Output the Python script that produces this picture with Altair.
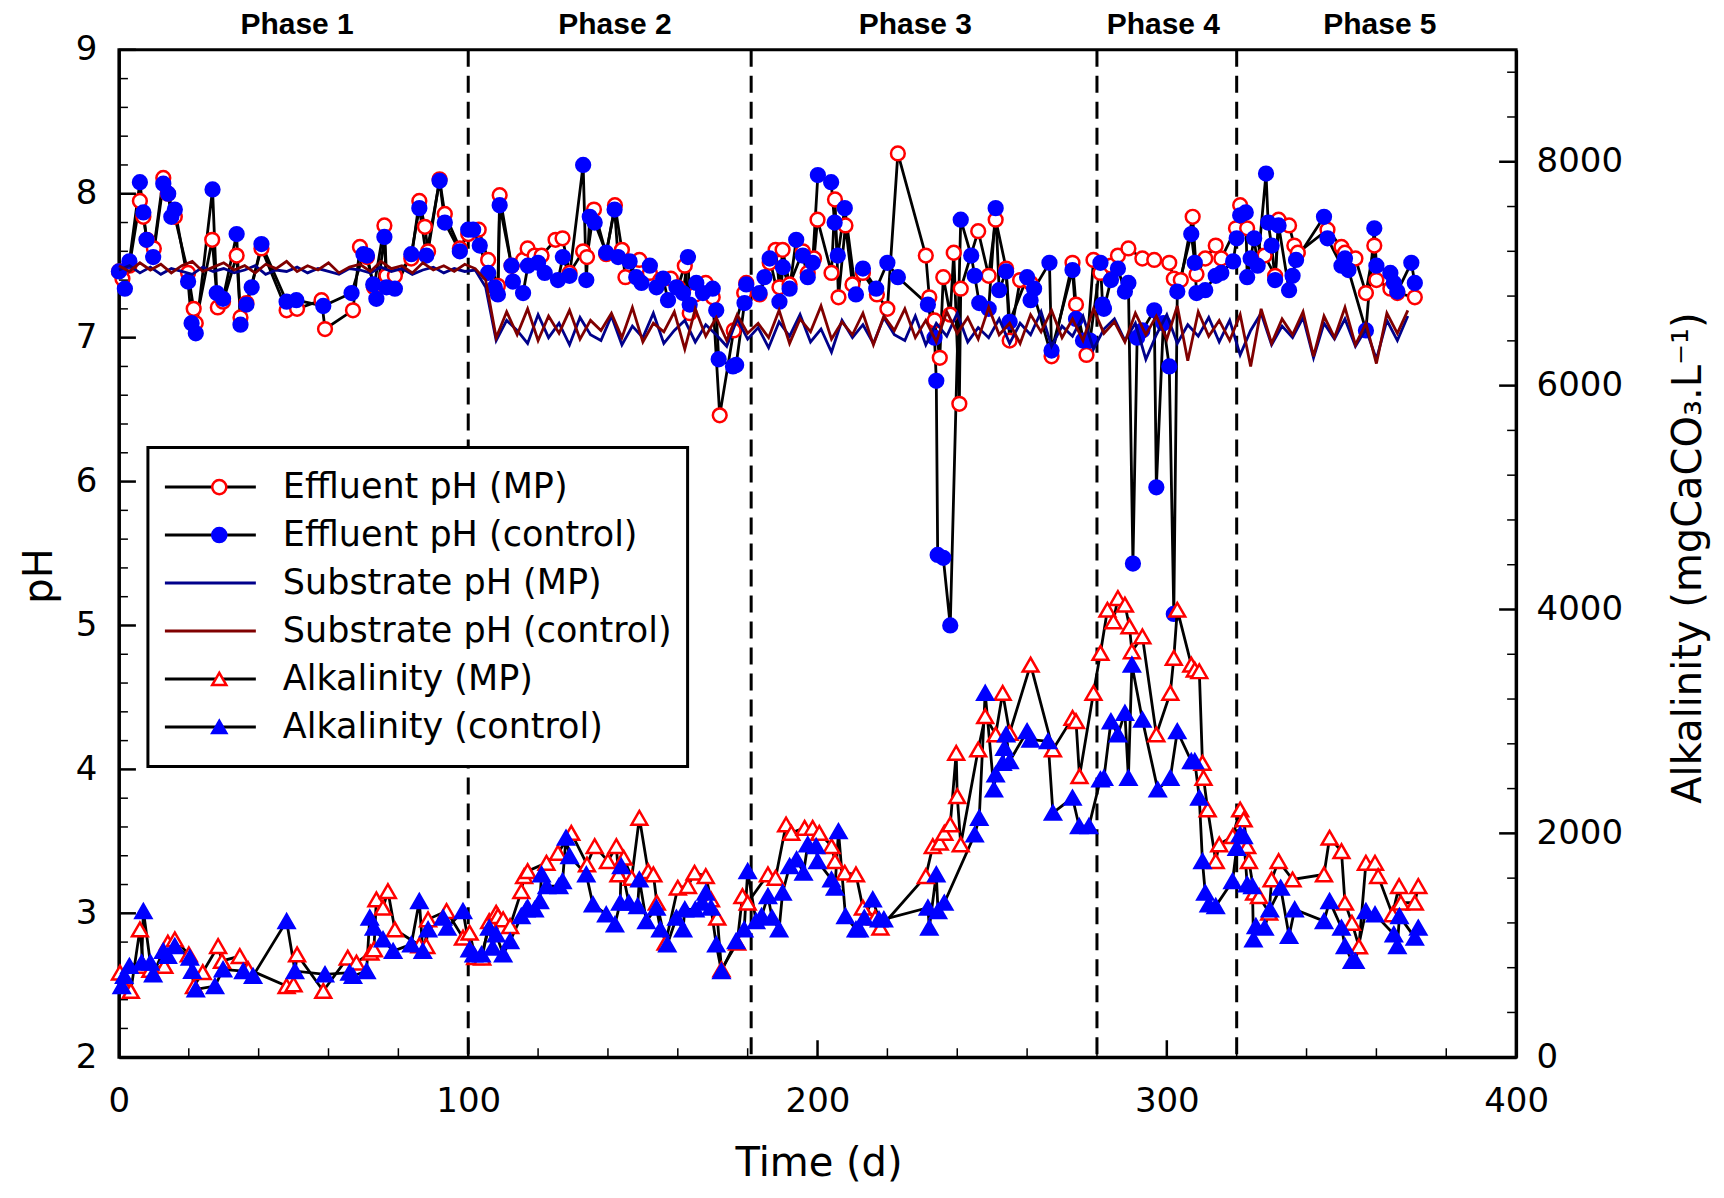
import altair as alt
import pandas as pd

# ---------------- data ----------------
SERIES = ["Effluent pH (MP)", "Effluent pH (control)", "Substrate pH (MP)",
          "Substrate pH (control)", "Alkalinity (MP)", "Alkalinity (control)"]
SERIES_M = [s + " " for s in SERIES]

PHASE_BOUNDS = [100, 181, 280, 320]
PHASE_LABELS = ["Phase 1", "Phase 2", "Phase 3", "Phase 4", "Phase 5"]
PHASE_CENTERS = [51, 142, 228, 299, 361]
PHASE_LABEL_Y = [9.17, 9.17, 9.17, 9.17, 9.17]

EFF_MP = [(0,7.46),(1,7.41),(3,7.50),(6,7.95),(7,7.84),(8,7.68),(10,7.62),(12.7,8.11),(14,8.00),(16,7.84),
          (19.8,7.45),(21.4,7.20),(22,7.10),(26.7,7.68),(28.3,7.21),(29.8,7.25),(33.7,7.57),(34.8,7.14),(36.5,7.24),
          (40.8,7.62),(48,7.19),(51,7.20),(58,7.26),(59,7.06),(67,7.19),(69,7.63),(71,7.56),(73,7.35),(76,7.78),
          (76.6,7.43),(79,7.43),(83.7,7.55),(86,7.95),(87.6,7.77),(88.5,7.60),(91.8,8.10),(93.3,7.86),(97.6,7.62),
          (100,7.72),(103,7.75),(105.7,7.54),(108.5,7.36),(109,7.99),(112.4,7.50),(115.7,7.54),(117,7.62),(119,7.57),
          (121,7.57),(125,7.68),(127,7.69),(129,7.45),(132.9,7.60),(134,7.56),(136,7.89),(139.5,7.58),(142,7.92),
          (144,7.61),(145,7.42),(149,7.54),(152,7.45),(155,7.40),(158,7.41),(160,7.35),(162,7.50),(163.4,7.17),
          (165,7.30),(168,7.38),(170,7.28),(172,6.46),(176,7.05),(179,7.31),(179.6,7.38),(183.4,7.30),(186.3,7.52),
          (188,7.61),(189.1,7.35),(190,7.61),(192,7.37),(195.8,7.60),(197.2,7.45),(199,7.55),(200,7.82),(204,7.45),
          (205,7.96),(206,7.28),(208,7.78),(210,7.37),(213,7.45),(217,7.30),(220,7.20),(223,8.28),(231,7.57),
          (232,7.28),(233.5,7.12),(235,6.86),(236,7.42),(238,7.16),(239,7.59),(240.6,6.54),(241,7.34),(246,7.74),
          (249,7.43),(251,7.82),(254,7.48),(255,6.98),(258,7.40),(261,7.38),(267,6.87),(273,7.52),(274,7.23),
          (277,6.88),(279,7.54),(281,7.45),(284,7.50),(286,7.57),(289,7.62),(293,7.55),(296.4,7.54),(300.7,7.52),
          (302,7.41),(304,7.40),(307.4,7.84),(308.5,7.44),(311,7.55),(314,7.64),(315.6,7.55),(319.8,7.76),(321,7.92),
          (323,7.76),(328,7.57),(331,7.43),(332,7.82),(335,7.78),(336.5,7.64),(337.5,7.59),(346,7.75),(350,7.63),
          (351,7.59),(354,7.55),(357,7.31),(359.4,7.64),(360,7.40),(364,7.34),(366,7.31),(371,7.28)]

EFF_CTRL = [(0,7.46),(1.7,7.34),(3,7.53),(6,8.08),(7,7.87),(7.9,7.68),(9.8,7.56),(12.7,8.07),(14.1,8.00),(15,7.84),
            (16,7.89),(19.8,7.39),(20.8,7.10),(22,7.03),(26.8,8.03),(28,7.31),(29.8,7.27),(33.7,7.72),(34.8,7.09),
            (36.5,7.23),(38,7.35),(40.8,7.65),(48,7.25),(50.8,7.26),(58.5,7.22),(66.6,7.31),(70,7.58),(71,7.57),
            (72.8,7.37),(73.7,7.27),(76,7.70),(76.6,7.35),(79,7.34),(83.7,7.58),(86,7.90),(88,7.57),(91.8,8.09),
            (93.3,7.80),(97.6,7.60),(100,7.75),(101.4,7.75),(103.3,7.64),(105.7,7.45),(107.6,7.35),(108.5,7.30),
            (109,7.92),(112.4,7.50),(112.8,7.39),(115.7,7.31),(117.1,7.50),(120,7.52),(121.9,7.45),(125.7,7.40),
            (127.1,7.56),(129,7.43),(132.9,8.20),(133.8,7.40),(134.8,7.84),(136.2,7.80),(139.5,7.59),(141.9,7.89),
            (142.9,7.56),(146.2,7.53),(148.1,7.42),(149.6,7.38),(152,7.50),(153.9,7.35),(155.8,7.41),(157.2,7.26),
            (159.6,7.35),(161.5,7.31),(162.9,7.56),(163.4,7.23),(165.3,7.38),(167.2,7.31),(170,7.34),(171,7.19),
            (171.7,6.85),(175.8,6.80),(176.7,6.81),(179.1,7.24),(179.6,7.37),(183.4,7.31),(184.8,7.42),(186.3,7.55),
            (189.1,7.25),(190.1,7.49),(192,7.34),(193.9,7.68),(195.8,7.57),(197.2,7.42),(198.6,7.52),(200.1,8.13),
            (203.9,8.08),(204.9,7.80),(205.8,7.57),(207.8,7.90),(211,7.30),(213,7.48),(216.8,7.34),(220,7.52),
            (223,7.42),(231.6,7.23),(233.5,7.00),(234,6.70),(234.4,5.49),(236,5.47),(238,5.00),(241,7.82),(244,7.57),
            (245,7.43),(246.3,7.24),(249,7.20),(251,7.90),(252,7.33),(254,7.46),(255,7.11),(260,7.42),(261,7.26),
            (262,7.34),(266.4,7.52),(267,6.91),(273,7.47),(274,7.13),(276,6.98),(278,6.98),(281,7.52),(281.6,7.23),
            (282,7.20),(284,7.40),(286,7.48),(288,7.32),(289,7.38),(290.3,5.43),(291.5,7.00),(293,7.05),(296.4,7.19),
            (297,5.96),(299,7.10),(300.7,6.80),(302,5.08),(303,7.32),(307,7.72),(308,7.52),(308.5,7.31),(311,7.33),
            (314,7.43),(315.6,7.45),(319,7.53),(320,7.69),(321,7.85),(322.6,7.87),(323,7.42),(324,7.55),(325,7.69),
            (326,7.50),(328.4,8.14),(329,7.80),(330,7.64),(331,7.40),(332,7.78),(335,7.33),(336,7.43),(337,7.54),
            (345,7.84),(346,7.69),(350,7.50),(351,7.55),(352,7.47),(357,7.05),(359.4,7.76),(360,7.50),(364,7.45),
            (365,7.38),(366,7.32),(370,7.52),(371,7.38)]

SUB_DAYS = list(range(0, 103, 3)) + list(range(105, 370, 3))
SUB_CTRL = [7.50,7.46,7.52,7.47,7.51,7.45,7.50,7.53,7.46,7.49,
            7.52,7.47,7.50,7.45,7.51,7.48,7.53,7.46,7.50,7.47,
            7.52,7.45,7.49,7.51,7.46,7.53,7.48,7.50,7.45,7.52,
            7.47,7.50,7.46,7.51,7.48,
            7.40,7.00,7.18,7.02,7.20,6.98,7.15,7.03,7.19,6.99,
            7.12,7.05,7.17,7.00,7.21,6.97,7.10,7.04,7.18,6.92,
            7.20,7.01,7.14,6.98,7.16,7.03,7.10,7.00,7.19,6.96,
            7.13,7.04,7.22,6.99,7.11,7.02,7.17,6.95,7.15,7.05,
            7.20,7.00,7.12,6.97,7.18,7.03,7.14,6.99,7.21,7.02,
            7.10,6.96,7.16,7.04,7.19,7.00,7.13,6.98,7.20,7.03,
            7.11,6.97,7.17,7.02,7.15,6.99,7.22,6.84,7.18,7.01,
            7.12,6.98,7.16,6.80,7.20,6.96,7.13,7.02,7.18,6.87,
            7.15,7.00,7.21,6.95,7.10,6.82,7.17,7.03,7.19]
SUB_MP = [7.47,7.50,7.45,7.49,7.44,7.48,7.46,7.44,7.49,7.46,
          7.48,7.45,7.47,7.50,7.44,7.47,7.46,7.49,7.45,7.48,
          7.46,7.44,7.48,7.47,7.45,7.49,7.46,7.48,7.44,7.47,
          7.49,7.45,7.48,7.46,7.47,
          7.35,6.98,7.12,7.05,6.96,7.16,7.00,7.10,6.95,7.14,
          7.02,6.98,7.15,6.95,7.08,7.00,7.17,6.96,7.05,7.12,
          6.97,7.09,7.02,6.94,7.13,6.99,7.07,6.93,7.11,7.01,
          7.16,6.97,7.06,6.90,7.12,7.00,7.09,6.96,7.14,7.02,
          6.98,7.15,6.95,7.10,7.01,7.17,6.97,7.07,7.00,7.13,
          6.96,7.10,7.02,7.18,6.94,7.08,7.01,7.15,6.92,7.06,
          7.13,6.98,7.10,6.85,7.02,7.16,6.96,7.09,7.01,7.14,
          6.97,7.12,6.88,7.05,7.17,6.95,7.08,7.00,7.14,6.86,
          7.10,6.99,7.13,6.94,7.06,6.85,7.12,6.98,7.15]

ALK_MP = [(0.3,756),(1.5,640),(3.4,592),(6,1142),(7,815),(9,780),(13,815),(14,1024),(16,1053),(20,919),
          (21.5,636),(24,760),(28.4,993),(29.5,860),(34.6,904),(37,785),(48,636),(50,651),(51,919),(58.5,592),
          (65.5,890),(68,845),(72,934),(73,964),(73.7,1410),(75.6,1336),(77,1484),(79,1142),(86,1000),(88,993),
          (88.5,1232),(93.8,1306),(98.5,1068),(100.4,1112),(102,895),(104,890),(106,1216),(108,1291),(108.5,1261),
          (110,1232),(112,1172),(115.2,1484),(116,1618),(117,1662),(122.4,1737),(125.7,1826),(129.5,2004),
          (134,1722),(136.2,1886),(140,1752),(142.4,1886),(143,1633),(144.5,1782),(146.8,1603),(149,2139),
          (151.5,1662),(153,1633),(154,1380),(156.5,1023),(160,1514),(162.9,1529),(164.8,1648),(168,1618),
          (169.5,1410),(171.3,1246),(172.5,785),(177,1023),(178.5,1439),(180,1380),(185.8,1633),(188,1603),
          (191,2079),(192.5,2004),(196.3,2049),(198.6,2049),(200.5,2004),(204,1886),(205,1752),(207.8,1648),
          (211,1633),(213,1336),(216.5,1246),(218,1157),(231,1618),(233,1886),(235,1916),(236.3,2005),(238,2079),
          (239.7,2719),(240,2332),(241,1901),(246,2749),(248,3046),(251,2883),(253,3255),(255,2898),(261,3507),
          (267.4,2749),(273,3032),(274,3002),(275,2511),(279,3255),(281,3612),(283,3998),(284.7,3894),(286,4102),
          (288,4043),(289.3,3849),(290,3626),(293,3760),(297,2883),(301,3255),(302,3567),(303,3998),(307,3507),
          (308,3463),(309.3,3448),(310.2,2630),(310.5,2496),(311.7,2213),(314,1752),(315,1901),(318.9,1975),
          (321,2213),(322,2124),(323,1886),(323.5,1752),(325,1470),(326.4,1439),(329.3,1291),(330,1588),(332,1752),
          (336,1588),(345,1633),(346.6,1961),(350,1841),(351,1380),(353,1201),(355,990),(357,1737),(359.6,1737),
          (360.5,1618),(364.6,1276),(366.5,1529),(367,1380),(371,1380),(372,1529)]

ALK_CTRL = [(0.8,636),(1.5,726),(3,815),(6.5,845),(7,1306),(9,845),(9.8,741),(12.7,949),(14,905),(16,993),
            (20.3,890),(21,771),(22,607),(27.5,636),(29.8,785),(35.6,770),(38.4,726),(48,1216),(50.4,770),(59,741),
            (66,756),(67,726),(70.9,770),(71.8,1247),(73,1157),(75.6,1053),(78.5,949),(83.7,1008),(86,1395),(87,949),
            (88.5,1142),(92.8,1247),(94,1157),(98.5,1306),(100.4,964),(101.6,919),(103.8,919),(106,1157),(107,979),
            (108,1098),(110,919),(112,1038),(115.2,1261),(116.6,1321),(117,1336),(119,1321),(120.5,1395),(121,1633),
            (122.5,1529),(126,1529),(127,1573),(128,1961),(129,1797),(133.8,1633),(135.7,1365),(139.5,1276),(142,1187),
            (143.5,1380),(143.8,1707),(146,1380),(148.5,1350),(149,1588),(151,1216),(153.9,1336),(155,1142),(157,1008),
            (159.6,1246),(161.5,1142),(162,1321),(165,1321),(167,1380),(168,1470),(169.5,1336),(171,1008),(172.5,770),
            (176.7,1038),(179,1142),(180,1662),(182.4,1216),(184,1261),(185.8,1439),(187,1246),(189,1142),(190,1470),
            (192,1707),(194,1767),(196,1648),(197.2,1901),(199.6,1886),(200,1752),(204,1588),(205,1514),(206,2019),
            (208,1261),(211,1142),(212,1142),(213.4,1246),(215.8,1410),(217.6,1232),(219,1232),(231.6,1336),(232,1157),
            (234,1633),(234.5,1306),(236.3,1380),(245,1990),(246.3,2139),(248,3255),(250.5,2392),(251,2526),(253,2630),
            (253.5,2764),(254,2883),(255,2645),(260,2912),(261,2838),(266,2823),(267.4,2184),(273,2318),(274.9,2064),
            (277.7,2064),(281,2481),(282,2496),(284,3001),(286,2883),(288,3076),(289,2496),(290,3507),(293,3016),
            (297.4,2392),(301,2496),(303,2912),(307,2645),(308,2645),(309.3,2318),(310.2,1752),(311,1470),(312,1365),
            (314,1350),(318.8,1573),(320,1870),(321,1990),(322,1975),(323,1544),(324.5,1529),(324.8,1053),(325.5,1172),
            (328,1157),(329.5,1321),(332.6,1514),(335,1083),(336.6,1321),(345,1216),(346.6,1395),(350,1157),(351,993),
            (353,860),(354,860),(357,1306),(359.6,1276),(365,1098),(366,993),(366.6,1261),(371,1068),(372,1157)]

X_TICKS = [0, 100, 200, 300, 400]
X_MAJOR_INNER = [100, 200, 300]
X_MINOR = [20 * i for i in range(1, 20) if i % 5]
PH_TICKS = [2, 3, 4, 5, 6, 7, 8, 9]
PH_MINOR = [round(2 + 0.2 * i, 1) for i in range(1, 35) if i % 5]
ALK_TICKS = [0, 2000, 4000, 6000, 8000]
ALK_MINOR = [400 * i for i in range(1, 23) if i % 5]

# ---------------- frames ----------------
def pairs_df(pairs, name, col):
    return pd.DataFrame({"day": [p[0] for p in pairs], col: [p[1] for p in pairs],
                         "series": name, "series_m": name + " "})

eff_df = pd.concat([pairs_df(EFF_MP, SERIES[0], "ph"), pairs_df(EFF_CTRL, SERIES[1], "ph")])
sub_df = pd.concat([
    pd.DataFrame({"day": SUB_DAYS, "ph": SUB_MP, "series": SERIES[2]}),
    pd.DataFrame({"day": SUB_DAYS, "ph": SUB_CTRL, "series": SERIES[3]})])
alk_df = pd.concat([pairs_df(ALK_MP, SERIES[4], "alk"), pairs_df(ALK_CTRL, SERIES[5], "alk")])
phase_df = pd.DataFrame({"day": PHASE_BOUNDS})
label_df = pd.DataFrame({"day": PHASE_CENTERS, "ph": PHASE_LABEL_Y, "label": PHASE_LABELS})

W, H = 1398, 1008

x_scale = alt.Scale(domain=[0, 400], nice=False, zero=False)
ph_scale = alt.Scale(domain=[2, 9], nice=False, zero=False)
alk_scale = alt.Scale(domain=[0, 9000], nice=False, zero=False)

x_axis = alt.Axis(values=X_TICKS, title="Time (d)", ticks=False, tickSize=0, labelPadding=27,
                  labelFlush=False, labelOverlap=False, format="d",
                  titleX=700, titleY=106, titleBaseline="middle", titleAlign="center")
ph_axis = alt.Axis(values=PH_TICKS, title="pH", ticks=False, tickSize=0, labelPadding=22,
                   labelOverlap=False, format="d",
                   titleX=-79, titleY=526, titleAngle=270, titleBaseline="middle", titleAlign="center")
alk_axis = alt.Axis(orient="right", values=ALK_TICKS, title="Alkalinity (mgCaCO\u2083.L\u207b\u00b9)",
                    ticks=False, tickSize=0, labelPadding=20, labelOverlap=False, format="d",
                    titleX=172, titleY=508, titleAngle=270, titleBaseline="middle", titleAlign="center")

X = alt.X("day:Q", scale=x_scale, axis=x_axis)
Y_PH = alt.Y("ph:Q", scale=ph_scale, axis=ph_axis)
Y_ALK = alt.Y("alk:Q", scale=alk_scale, axis=alk_axis)

legend_lines = alt.Legend(orient="none", legendX=29, legendY=398, title=None, symbolType="stroke",
                          symbolSize=8281, symbolStrokeWidth=3, clipHeight=48, rowPadding=0, padding=15.5,
                          labelFont="DejaVu Sans", labelFontSize=35, labelOffset=25.5, labelLimit=1000,
                          labelColor="black", strokeColor="black", fillColor="white", zindex=1)
legend_marks = alt.Legend(orient="none", legendX=67.4, legendY=398, title=None, clipHeight=48,
                          rowPadding=0, padding=15.5, symbolSize=200, symbolStrokeWidth=2.5,
                          labelFontSize=35, labelExpr="''", labelLimit=1000, zindex=2)

color_scale = alt.Scale(domain=SERIES, range=["black", "black", "#00008B", "#800000", "black", "black"])
shape_scale = alt.Scale(domain=SERIES_M, range=["circle", "circle", "circle", "circle", "triangle-up", "triangle-up"])
fill_scale = alt.Scale(domain=SERIES_M, range=["white", "#0000FF", "transparent", "transparent", "white", "#0000FF"])
stroke_scale = alt.Scale(domain=SERIES_M, range=["#FF0000", "#0000FF", "transparent", "transparent", "#FF0000", "#0000FF"])

COLOR = alt.Color("series:N", scale=color_scale, legend=legend_lines)
SHAPE = alt.Shape("series_m:N", scale=shape_scale, legend=legend_marks)
FILL = alt.Fill("series_m:N", scale=fill_scale, legend=legend_marks)
STROKE = alt.Stroke("series_m:N", scale=stroke_scale, legend=legend_marks)

# ---------------- pH layers ----------------
dashes = alt.Chart(phase_df).mark_rule(strokeDash=[17, 9], strokeWidth=3, color="black").encode(
    x=X, y=alt.value(0), y2=alt.value(H))
eff_lines = alt.Chart(eff_df).mark_line(strokeWidth=2.8).encode(x=X, y=Y_PH, color=COLOR)
eff_pts = alt.Chart(eff_df).mark_point(filled=True, size=190, strokeWidth=2.5, opacity=1).encode(
    x=X, y=Y_PH, shape=SHAPE, fill=FILL, stroke=STROKE)
sub_lines = alt.Chart(sub_df).mark_line(strokeWidth=2.8).encode(x=X, y=Y_PH, color=COLOR)
phase_txt = alt.Chart(label_df).mark_text(font="Liberation Sans", fontSize=30, fontWeight="bold",
                                          align="center", baseline="middle", color="black").encode(
    x=X, y=Y_PH, text="label:N")

left_major = alt.Chart(pd.DataFrame({"ph": PH_TICKS})).mark_rule(color="black", strokeWidth=2.5).encode(
    y=Y_PH, x=alt.value(0), x2=alt.value(17))
left_minor = alt.Chart(pd.DataFrame({"ph": PH_MINOR})).mark_rule(color="black", strokeWidth=1.5).encode(
    y=Y_PH, x=alt.value(0), x2=alt.value(9))
bot_major = alt.Chart(pd.DataFrame({"day": X_MAJOR_INNER})).mark_rule(color="black", strokeWidth=2.5).encode(
    x=X, y=alt.value(H), y2=alt.value(H - 17))
bot_minor = alt.Chart(pd.DataFrame({"day": X_MINOR})).mark_rule(color="black", strokeWidth=1.5).encode(
    x=X, y=alt.value(H), y2=alt.value(H - 9))

ph_group = alt.layer(dashes, eff_lines, eff_pts, sub_lines, phase_txt,
                     left_major, left_minor, bot_major, bot_minor)

# ---------------- alkalinity layers ----------------
alk_lines = alt.Chart(alk_df).mark_line(strokeWidth=2.8).encode(x=X, y=Y_ALK, color=COLOR)
alk_pts = alt.Chart(alk_df).mark_point(filled=True, size=250, strokeWidth=2.5, opacity=1).encode(
    x=X, y=Y_ALK, shape=SHAPE, fill=FILL, stroke=STROKE)
right_major = alt.Chart(pd.DataFrame({"alk": ALK_TICKS})).mark_rule(color="black", strokeWidth=2.5).encode(
    y=Y_ALK, x=alt.value(W), x2=alt.value(W - 17))
right_minor = alt.Chart(pd.DataFrame({"alk": ALK_MINOR})).mark_rule(color="black", strokeWidth=1.5).encode(
    y=Y_ALK, x=alt.value(W), x2=alt.value(W - 9))

alk_group = alt.layer(alk_lines, alk_pts, right_major, right_minor)

chart = alt.layer(ph_group, alk_group).resolve_scale(y="independent").properties(
    width=W, height=H,
    autosize=alt.AutoSizeParams(type="none"),
    padding={"left": 111, "top": 41.5, "right": 200, "bottom": 132},
    background="white",
).configure_view(
    stroke="black", strokeWidth=3
).configure_axis(
    labelFont="DejaVu Sans", labelFontSize=34, labelColor="black",
    titleFont="DejaVu Sans", titleFontSize=40, titleFontWeight="normal", titleColor="black",
    domainColor="black", domainWidth=3, grid=False
).configure_legend(strokeWidth=3)

chart.save("out.html", embed_options={"renderer": "svg", "actions": False})
